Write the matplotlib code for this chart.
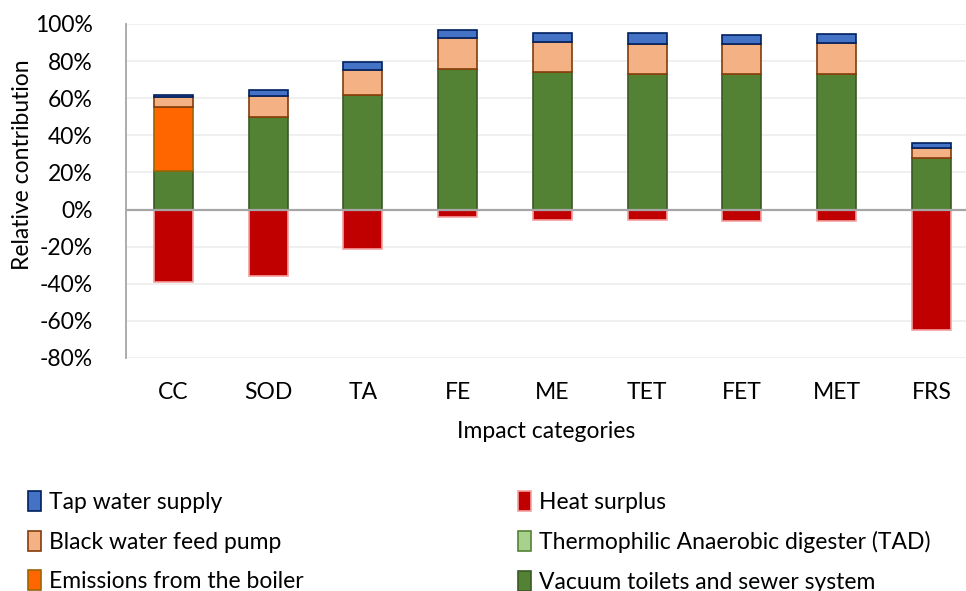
import matplotlib
matplotlib.use("Agg")
import matplotlib.pyplot as plt
from matplotlib.patches import Patch
from matplotlib.ticker import FuncFormatter
import numpy as np

plt.rcParams['font.family'] = ['Lato', 'DejaVu Sans']

categories = ["CC", "SOD", "TA", "FE", "ME", "TET", "FET", "MET", "FRS"]
vacuum_toilets = [20.7, 50.1, 61.6, 75.5, 74.2, 73.0, 73.3, 73.3, 27.7]
tad = [0, 0, 0, 0, 0, 0, 0, 0, 0]
boiler_emissions = [34.8, 0, 0, 0, 0, 0, 0, 0, 0]
feed_pump = [4.9, 11.2, 13.7, 16.8, 16.2, 16.4, 16.1, 16.4, 5.6]
tap_water = [1.2, 3.2, 4.2, 4.3, 4.6, 5.7, 4.8, 4.7, 2.5]
heat_surplus = [-39.1, -36.0, -21.1, -3.9, -5.8, -5.4, -6.3, -6.2, -64.9]
yticks = [-80, -60, -40, -20, 0, 20, 40, 60, 80, 100]

FS = 16.5
W, H = 966, 591
fig = plt.figure(figsize=(W / 100, H / 100), dpi=100)
ax = fig.add_axes([126 / W, 1 - 358 / H, 1 - 126 / W, (358 - 24) / H])

x = np.arange(len(categories))
bw = 0.41
lw = 1.2

series = [
    ("Vacuum toilets and sewer system", vacuum_toilets, "#548235", "#3A5A25"),
    ("Thermophilic Anaerobic digester (TAD)", tad, "#A9D18E", "#548235"),
    ("Emissions from the boiler", boiler_emissions, "#FF6600", "#9C6500"),
    ("Black water feed pump", feed_pump, "#F4B183", "#843C0C"),
    ("Tap water supply", tap_water, "#4472C4", "#002060"),
]
handles = {}
bottom = np.zeros(len(categories))
for name, vals, fc, ec in series:
    v = np.array(vals, dtype=float)
    ax.bar(x, v, bw, bottom=bottom, color=fc, edgecolor=ec, linewidth=lw, zorder=3)
    bottom += v
    handles[name] = Patch(facecolor=fc, edgecolor=ec, linewidth=lw)

ax.bar(x, heat_surplus, bw, color="#C00000", edgecolor="#F4A0A0", linewidth=lw, zorder=3)
handles["Heat surplus"] = Patch(facecolor="#C00000", edgecolor="#F4A0A0", linewidth=lw)

ax.set_xlim(-0.5, (W - 126) / 94.75 - 0.5)
ax.set_ylim(-80, 100)
ax.set_yticks(yticks)
ax.yaxis.set_major_formatter(FuncFormatter(lambda v, p: f"{v:.0f}%"))
ax.set_xticks(x)
ax.set_xticklabels(categories)
ax.tick_params(axis='both', length=0, labelsize=FS, colors='black')
ax.tick_params(axis='y', pad=24)
ax.tick_params(axis='x', pad=17)
ax.grid(axis='y', color='#EEEEEE', linewidth=1.2, zorder=0)
ax.axhline(0, color='#A6A6A6', linewidth=1.6, zorder=4)
for s in ['top', 'right', 'bottom']:
    ax.spines[s].set_visible(False)
ax.spines['left'].set_color('#A6A6A6')
ax.spines['left'].set_linewidth(1.3)

ax.set_xlabel("Impact categories", fontsize=FS, labelpad=13)
fig.text(23 / W, 1 - 165 / H, "Relative contribution", rotation=90,
         ha='center', va='center', fontsize=FS)

col1 = ["Tap water supply", "Black water feed pump", "Emissions from the boiler"]
col2 = ["Heat surplus", "Thermophilic Anaerobic digester (TAD)", "Vacuum toilets and sewer system"]
for names, x0 in [(col1, 19), (col2, 509)]:
    leg = fig.legend([handles[n] for n in names], names, loc='upper left',
                     bbox_to_anchor=(x0 / W, 1 - 482 / H), frameon=False,
                     fontsize=FS, handlelength=0.55, handleheight=0.95,
                     handletextpad=0.35, labelspacing=0.78, borderaxespad=0)

fig.savefig("out.png", dpi=100)
